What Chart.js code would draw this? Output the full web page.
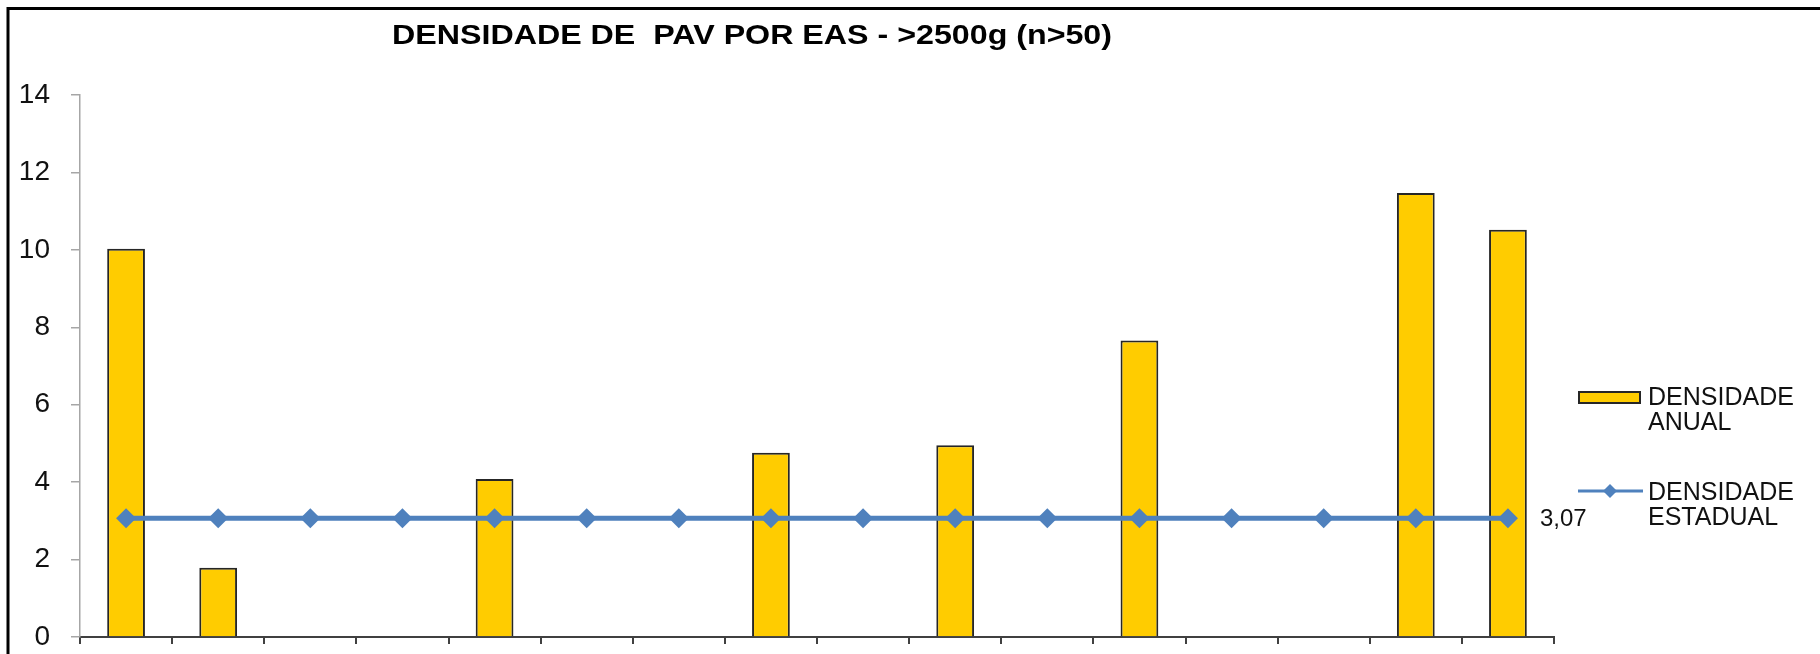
<!DOCTYPE html>
<html>
<head>
  <meta charset="utf-8">
  <title>DENSIDADE DE PAV POR EAS - >2500g (n>50)</title>
  <script src="https://cdn.jsdelivr.net/npm/chart.js"></script>
  <style>
    html, body {
      margin: 0;
      padding: 0;
      background: #fff;
    }
    #wrap {
      width: 1820px;
      height: 654px;
      position: relative;
    }
  </style>
</head>
<body>
  <div id="wrap">
    <canvas id="chart"></canvas>
  </div>

  <script>
    const titleText = 'DENSIDADE DE  PAV POR EAS - >2500g (n>50)';
    // the category names are cut off below the axis in the picture
    const categories = ['1', '2', '3', '4', '5', '6', '7', '8', '9', '10', '11', '12', '13', '14', '15', '16'];
    const densidadeAnual = [10.03, 1.79, null, null, 4.08, null, null, 4.76, null, 4.95, null, 7.66, null, null, 11.47, 10.52];
    const densidadeEstadual = [3.07, 3.07, 3.07, 3.07, 3.07, 3.07, 3.07, 3.07, 3.07, 3.07, 3.07, 3.07, 3.07, 3.07, 3.07, 3.07];
    const yTicks = [0, 2, 4, 6, 8, 10, 12, 14];

    const FONT = 'Arial, "Liberation Sans", sans-serif';
    const YELLOW = '#FFCC00';
    const BLUE = '#4F81BD';

    // outer frame + title
    const framePlugin = {
      id: 'frame',
      afterDraw(chart) {
        const ctx = chart.ctx;
        ctx.save();
        ctx.strokeStyle = '#000';
        ctx.lineWidth = 3;
        ctx.beginPath();
        ctx.moveTo(8, 660);
        ctx.lineTo(8, 8.5);
        ctx.lineTo(1830, 8.5);
        ctx.stroke();

        // title, condensed like the original
        ctx.font = 'bold 28px ' + FONT;
        ctx.fillStyle = '#000';
        ctx.textBaseline = 'middle';
        ctx.textAlign = 'center';
        const w = ctx.measureText(titleText).width;
        ctx.translate(752, 36);
        ctx.scale(720 / w, 1);
        ctx.fillText(titleText, 0, 0);
        ctx.restore();
      }
    };

    // legend on the right, two-line labels
    const legendPlugin = {
      id: 'sideLegend',
      afterDraw(chart) {
        const ctx = chart.ctx;
        const ds = chart.data.datasets;
        ctx.save();
        ctx.font = '25px ' + FONT;
        ctx.textBaseline = 'middle';
        ctx.textAlign = 'left';

        // bar item
        ctx.fillStyle = YELLOW;
        ctx.fillRect(1579, 392, 61, 11);
        ctx.strokeStyle = '#262626';
        ctx.lineWidth = 2;
        ctx.strokeRect(1579, 392, 61, 11);
        ctx.fillStyle = '#111';
        ds[0].label.split(' ').forEach((t, i) => ctx.fillText(t, 1648, 398 + i * 25));

        // line item
        ctx.strokeStyle = BLUE;
        ctx.lineWidth = 3;
        ctx.beginPath();
        ctx.moveTo(1578, 491);
        ctx.lineTo(1643, 491);
        ctx.stroke();
        ctx.fillStyle = BLUE;
        ctx.beginPath();
        ctx.moveTo(1610 - 7, 491);
        ctx.lineTo(1610, 491 - 7);
        ctx.lineTo(1610 + 7, 491);
        ctx.lineTo(1610, 491 + 7);
        ctx.closePath();
        ctx.fill();
        ctx.fillStyle = '#111';
        ds[1].label.split(' ').forEach((t, i) => ctx.fillText(t, 1648, 493 + i * 25));
        ctx.restore();
      }
    };

    // value label next to the last point of the state line
    const lastLabelPlugin = {
      id: 'lastLabel',
      afterDatasetsDraw(chart) {
        const meta = chart.getDatasetMeta(1);
        const n = meta.data.length - 1;
        const pt = meta.data[n];
        const v = chart.data.datasets[1].data[n];
        const ctx = chart.ctx;
        ctx.save();
        ctx.font = '24px ' + FONT;
        ctx.fillStyle = '#111';
        ctx.textBaseline = 'middle';
        ctx.textAlign = 'left';
        ctx.fillText(v.toFixed(2).replace('.', ','), pt.x + 32, pt.y + 1);
        ctx.restore();
      }
    };

    const ctx = document.getElementById('chart').getContext('2d');
    new Chart(ctx, {
      type: 'bar',
      data: {
        labels: categories,
        datasets: [
          {
            type: 'bar',
            label: 'DENSIDADE ANUAL',
            data: densidadeAnual,
            backgroundColor: YELLOW,
            borderColor: '#262626',
            borderWidth: 2,
            barPercentage: 0.41,
            categoryPercentage: 1,
            order: 1
          },
          {
            type: 'line',
            label: 'DENSIDADE ESTADUAL',
            data: densidadeEstadual,
            borderColor: BLUE,
            backgroundColor: BLUE,
            borderWidth: 5,
            pointStyle: 'rectRot',
            pointRadius: 10,
            pointBorderWidth: 0,
            pointBackgroundColor: BLUE,
            fill: false,
            tension: 0,
            order: 0
          }
        ]
      },
      options: {
        responsive: true,
        maintainAspectRatio: false,
        animation: false,
        layout: {
          padding: { top: 95, right: 266, bottom: 0, left: 0 }
        },
        plugins: {
          legend: { display: false },
          title: { display: false },
          tooltip: { enabled: false }
        },
        scales: {
          x: {
            type: 'category',
            offset: true,
            grid: {
              offset: true,
              drawOnChartArea: false,
              drawTicks: true,
              tickLength: 7,
              color: '#404040',
              lineWidth: 2
            },
            border: { display: true, color: '#404040', width: 2 },
            ticks: { display: false },
            afterFit(scale) { scale.height = 17; }
          },
          y: {
            min: 0,
            max: 14,
            afterBuildTicks(scale) {
              scale.ticks = yTicks.map(v => ({ value: v }));
            },
            grid: {
              drawOnChartArea: false,
              drawTicks: true,
              tickLength: 9,
              color: '#A6A6A6',
              lineWidth: 1.5
            },
            border: { display: true, color: '#A6A6A6', width: 1.5 },
            ticks: {
              font: { family: FONT, size: 28 },
              color: '#111',
              padding: 21
            },
            afterFit(scale) {
              scale.width = 80;
              // the bottom label may overhang the plot, like in the original
              scale.paddingTop = 0;
              scale.paddingBottom = 0;
            }
          }
        }
      },
      plugins: [framePlugin, legendPlugin, lastLabelPlugin]
    });
  </script>
</body>
</html>
